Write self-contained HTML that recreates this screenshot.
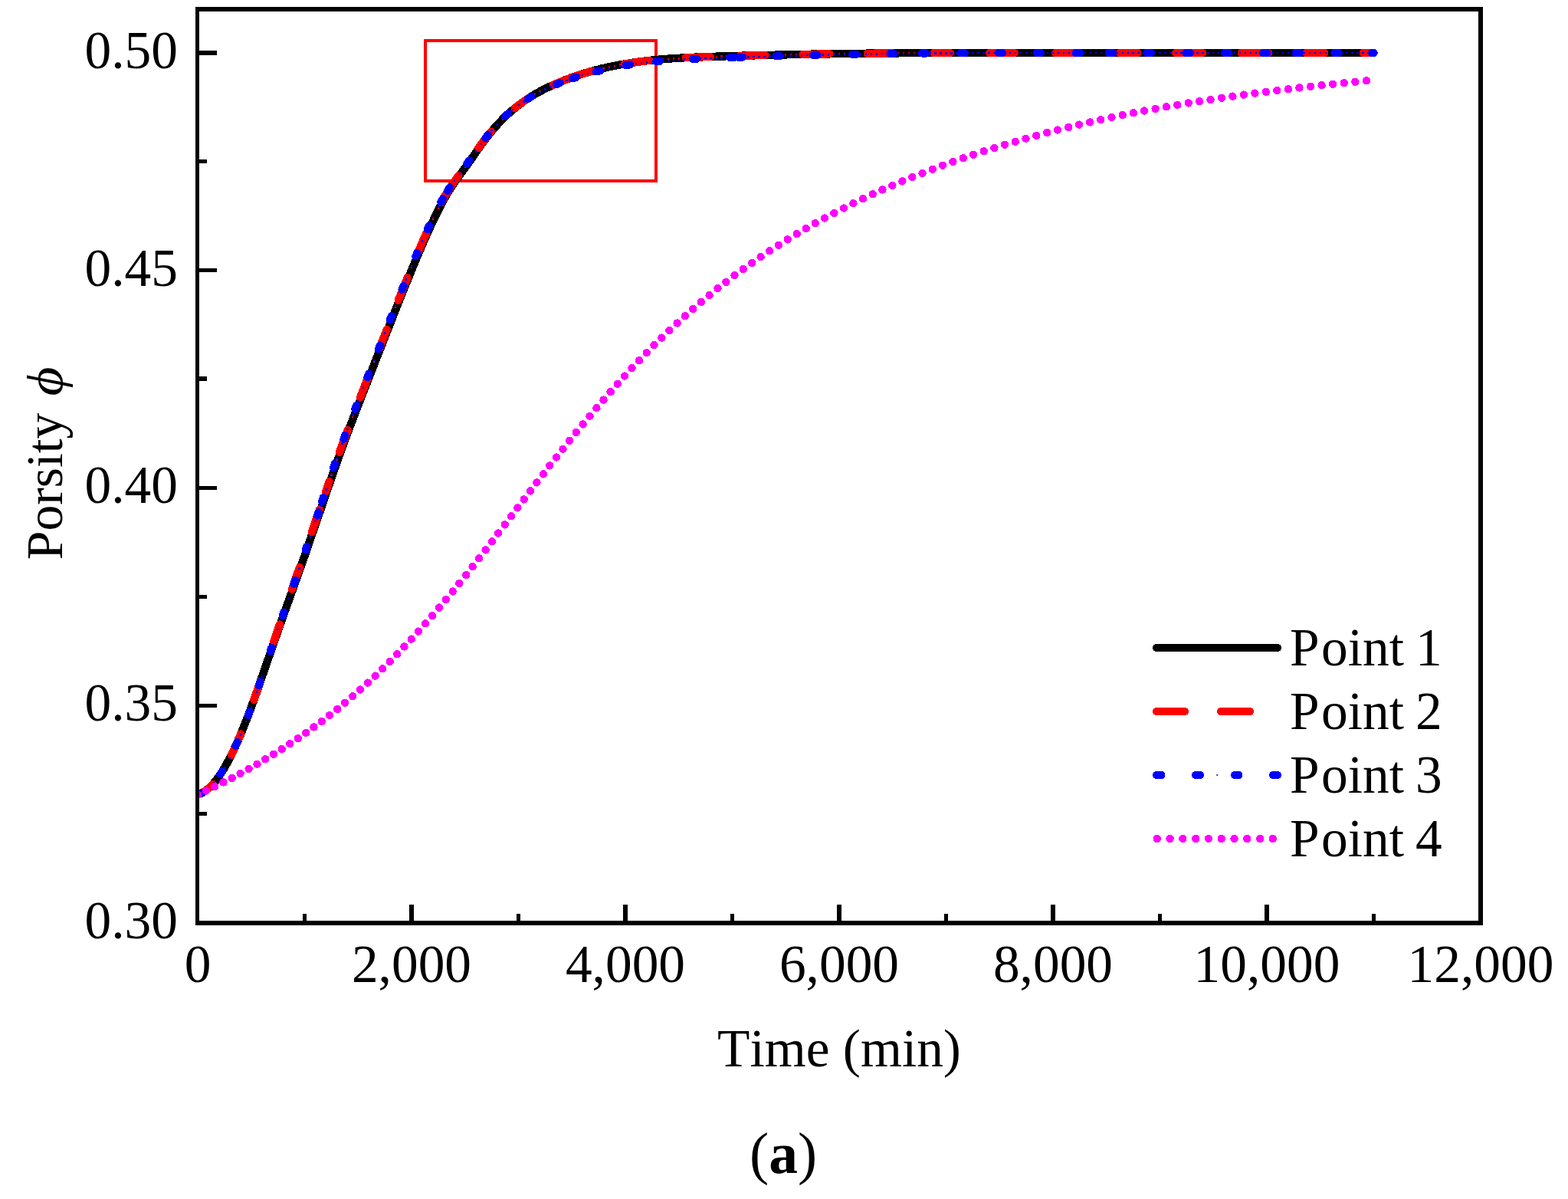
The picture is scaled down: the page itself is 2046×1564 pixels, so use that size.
<!DOCTYPE html>
<html><head><meta charset="utf-8">
<style>
html,body{margin:0;padding:0;background:#fff;}
svg{display:block;}
text{font-family:"Liberation Serif","DejaVu Serif",serif;fill:#000;font-kerning:none;font-variant-ligatures:none;}
</style></head>
<body>
<svg width="2046" height="1564" viewBox="0 0 2046 1564">
<rect x="0" y="0" width="2046" height="1564" fill="#fff"/>
<defs><clipPath id="plot"><rect x="258" y="12" width="1674" height="1192"/></clipPath></defs>
<rect x="555" y="53" width="301" height="183" fill="none" stroke="#f00" stroke-width="4"/>
<g clip-path="url(#plot)" fill="none" stroke-linejoin="round" stroke-linecap="round" shape-rendering="crispEdges">
<path d="M258.0,1036.2L262.1,1034.9L265.9,1033.0L269.4,1030.7L272.7,1027.9L275.8,1025.0L278.7,1021.8L281.4,1018.5L284.0,1015.1L286.5,1011.6L288.8,1008.1L291.1,1004.5L293.3,1000.8L295.4,997.1L297.4,993.3L299.4,989.6L301.4,985.8L303.3,981.9L305.1,978.1L306.9,974.2L308.7,970.3L310.4,966.4L312.1,962.5L313.8,958.6L315.4,954.6L317.0,950.7L318.6,946.7L320.2,942.7L321.7,938.7L323.3,934.7L324.8,930.8L326.3,926.8L327.7,922.7L329.2,918.7L330.7,914.7L332.1,910.7L333.6,906.7L335.0,902.7L336.4,898.6L337.8,894.6L339.2,890.6L340.6,886.5L342.0,882.5L343.4,878.5L344.8,874.4L346.2,870.4L347.6,866.3L349.0,862.3L350.4,858.3L351.8,854.2L353.2,850.2L354.6,846.2L356.0,842.1L357.4,838.1L358.8,834.1L360.2,830.0L361.6,826.0L363.0,822.0L364.5,817.9L365.9,813.9L367.3,809.9L368.8,805.9L370.2,801.8L371.6,797.8L373.1,793.8L374.5,789.8L375.9,785.8L377.4,781.7L378.8,777.7L380.3,773.7L381.7,769.7L383.1,765.7L384.6,761.6L386.0,757.6L387.4,753.6L388.9,749.6L390.3,745.5L391.7,741.5L393.1,737.5L394.6,733.4L396.0,729.4L397.4,725.4L398.8,721.3L400.2,717.3L401.6,713.3L403.0,709.2L404.4,705.2L405.8,701.2L407.1,697.1L408.5,693.1L409.9,689.0L411.3,685.0L412.7,681.0L414.1,676.9L415.5,672.9L416.9,668.9L418.3,664.8L419.7,660.8L421.0,656.7L422.4,652.7L423.8,648.7L425.2,644.6L426.6,640.6L428.0,636.5L429.4,632.5L430.8,628.5L432.2,624.4L433.6,620.4L435.0,616.4L436.4,612.3L437.8,608.3L439.2,604.3L440.6,600.2L442.1,596.2L443.5,592.2L445.0,588.2L446.4,584.2L447.9,580.2L449.4,576.1L450.8,572.1L452.3,568.1L453.8,564.1L455.3,560.1L456.8,556.1L458.3,552.1L459.9,548.2L461.4,544.2L462.9,540.2L464.4,536.2L466.0,532.2L467.5,528.2L469.1,524.2L470.6,520.3L472.2,516.3L473.7,512.3L475.3,508.3L476.8,504.3L478.4,500.4L480.0,496.4L481.5,492.4L483.1,488.4L484.6,484.5L486.2,480.5L487.8,476.5L489.3,472.5L490.9,468.6L492.4,464.6L494.0,460.6L495.6,456.6L497.1,452.7L498.7,448.7L500.2,444.7L501.8,440.7L503.4,436.7L504.9,432.8L506.5,428.8L508.0,424.8L509.6,420.8L511.2,416.9L512.7,412.9L514.3,408.9L515.9,404.9L517.4,401.0L519.0,397.0L520.6,393.0L522.2,389.1L523.8,385.1L525.4,381.1L526.9,377.2L528.5,373.2L530.2,369.3L531.8,365.3L533.4,361.3L535.0,357.4L536.6,353.4L538.3,349.5L539.9,345.6L541.5,341.6L543.2,337.7L544.9,333.7L546.5,329.8L548.2,325.9L549.9,322.0L551.6,318.0L553.3,314.1L555.0,310.2L556.7,306.3L558.5,302.4L560.3,298.5L562.0,294.6L563.8,290.8L565.6,286.9L567.5,283.0L569.4,279.2L571.3,275.4L573.2,271.6L575.2,267.8L577.2,264.0L579.2,260.3L581.3,256.5L583.4,252.8L585.7,249.2L587.9,245.6L590.3,242.0L592.7,238.5L595.1,235.0L597.6,231.5L600.1,228.0L602.7,224.6L605.2,221.2L607.7,217.7L610.2,214.3L612.7,210.8L615.2,207.3L617.6,203.8L620.0,200.3L622.4,196.7L624.9,193.2L627.3,189.7L629.8,186.3L632.4,182.8L634.9,179.4L637.6,176.1L640.3,172.7L643.0,169.5L645.8,166.2L648.6,163.1L651.5,159.9L654.5,156.9L657.5,153.8L660.6,150.9L663.7,148.0L666.9,145.1L670.2,142.4L673.5,139.7L676.9,137.0L680.3,134.5L683.8,132.0L687.3,129.6L690.9,127.3L694.5,125.0L698.2,122.8L701.9,120.7L705.6,118.7L709.4,116.7L713.2,114.8L717.1,113.0L721.0,111.2L724.9,109.5L728.8,107.8L732.8,106.2L736.7,104.6L740.7,103.1L744.7,101.6L748.8,100.1L752.8,98.8L756.9,97.4L760.9,96.1L765.0,94.9L769.1,93.7L773.2,92.5L777.3,91.4L781.5,90.4L785.6,89.3L789.8,88.4L794.0,87.4L798.1,86.5L802.3,85.7L806.5,84.9L810.7,84.1L814.9,83.4L819.1,82.7L823.4,82.0L827.6,81.4L831.8,80.8L836.0,80.2L840.3,79.7L844.5,79.2L848.8,78.7L853.0,78.3L857.3,77.9L861.5,77.5L865.8,77.2L870.0,76.8L874.3,76.5L878.6,76.2L882.8,75.9L887.1,75.7L891.4,75.4L895.6,75.2L899.9,75.0L904.2,74.8L908.4,74.6L912.7,74.5L917.0,74.3L921.2,74.2L925.5,74.0L929.8,73.9L934.0,73.7L938.3,73.6L942.6,73.5L946.8,73.3L951.1,73.2L955.4,73.1L959.6,73.0L963.9,72.8L968.2,72.7L972.5,72.6L976.7,72.5L981.0,72.4L985.3,72.3L989.5,72.2L993.8,72.1L998.1,72.0L1002.3,71.9L1006.6,71.8L1010.9,71.7L1015.2,71.6L1019.4,71.5L1023.7,71.4L1028.0,71.3L1032.2,71.2L1036.5,71.1L1040.8,71.0L1045.0,70.9L1049.3,70.9L1053.6,70.8L1057.9,70.7L1062.1,70.6L1066.4,70.6L1070.7,70.5L1074.9,70.4L1079.2,70.4L1083.5,70.3L1087.8,70.2L1092.0,70.2L1096.3,70.1L1100.6,70.0L1104.8,70.0L1109.1,69.9L1113.4,69.9L1117.7,69.8L1121.9,69.8L1126.2,69.7L1130.5,69.7L1134.7,69.6L1139.0,69.6L1143.3,69.5L1147.5,69.5L1151.8,69.5L1156.1,69.4L1160.4,69.4L1164.6,69.3L1168.9,69.3L1173.2,69.3L1177.4,69.2L1181.7,69.2L1186.0,69.2L1190.3,69.1L1194.5,69.1L1198.8,69.1L1203.1,69.1L1207.3,69.0L1211.6,69.0L1215.9,69.0L1220.2,69.0L1224.4,69.0L1228.7,69.0L1233.0,69.0L1237.2,69.0L1241.5,69.0L1245.8,69.0L1250.1,69.0L1254.3,69.0L1258.6,69.0L1262.9,69.0L1267.1,69.0L1271.4,69.0L1275.7,69.0L1280.0,69.0L1284.2,69.0L1288.5,69.0L1292.8,69.0L1297.0,69.0L1301.3,69.0L1305.6,69.0L1309.9,69.0L1314.1,69.0L1318.4,69.0L1322.7,69.0L1326.9,69.0L1331.2,69.0L1335.5,69.0L1339.8,69.0L1344.0,69.0L1348.3,69.0L1352.6,69.0L1356.8,69.0L1361.1,69.0L1365.4,69.0L1369.6,69.0L1373.9,69.0L1378.2,69.0L1382.5,69.0L1386.7,69.0L1391.0,69.0L1395.3,69.0L1399.5,69.0L1403.8,69.0L1408.1,69.0L1412.4,69.0L1416.6,69.0L1420.9,69.0L1425.2,69.0L1429.4,69.0L1433.7,69.0L1438.0,69.0L1442.3,69.0L1446.5,69.0L1450.8,69.0L1455.1,69.0L1459.3,69.0L1463.6,69.0L1467.9,69.0L1472.2,69.0L1476.4,69.0L1480.7,69.0L1485.0,69.0L1489.2,69.0L1493.5,69.0L1497.8,69.0L1502.1,69.0L1506.3,69.0L1510.6,69.0L1514.9,69.0L1519.1,69.0L1523.4,69.0L1527.7,69.0L1532.0,69.0L1536.2,69.0L1540.5,69.0L1544.8,69.0L1549.0,69.0L1553.3,69.0L1557.6,69.0L1561.9,69.0L1566.1,69.0L1570.4,69.0L1574.7,69.0L1578.9,69.0L1583.2,69.0L1587.5,69.0L1591.8,69.0L1596.0,69.0L1600.3,69.0L1604.6,69.0L1608.8,69.0L1613.1,69.0L1617.4,69.0L1621.7,69.0L1625.9,69.0L1630.2,69.0L1634.5,69.0L1638.7,69.0L1643.0,69.0L1647.3,69.0L1651.6,69.0L1655.8,69.0L1660.1,69.0L1664.4,69.0L1668.6,69.0L1672.9,69.0L1677.2,69.0L1681.4,69.0L1685.7,69.0L1690.0,69.0L1694.3,69.0L1698.5,69.0L1702.8,69.0L1707.1,69.0L1711.3,69.0L1715.6,69.0L1719.9,69.0L1724.2,69.0L1728.4,69.0L1732.7,69.0L1737.0,69.0L1741.2,69.0L1745.5,69.0L1749.8,69.0L1754.1,69.0L1758.3,69.0L1762.6,69.0L1766.9,69.0L1771.1,69.0L1775.4,69.0L1779.7,69.0L1784.0,69.0L1788.2,69.0L1792.5,69.0" stroke="#000" stroke-width="10.4"/>
<path d="M262.8,1034.6L263.7,1034.1L264.6,1033.7L265.6,1033.2L266.5,1032.6L267.4,1032.0L268.2,1031.4L269.1,1030.9L270.0,1030.2L270.8,1029.5L271.6,1028.8L272.4,1028.2L273.2,1027.5L274.0,1026.7L274.8,1026.0L275.5,1025.2L276.3,1024.5L277.0,1023.7L277.6,1023.0M301.9,984.8L302.3,983.9L302.7,983.0L303.2,982.0L303.7,981.1L304.1,980.1L304.6,979.1L305.1,978.2L305.5,977.2L306.0,976.2L306.4,975.3L306.9,974.3L307.3,973.3L307.7,972.4L308.2,971.4L308.6,970.4L309.0,969.4L309.5,968.5L309.9,967.5L310.3,966.5L310.8,965.5L311.2,964.6L311.6,963.6L312.0,962.6L312.5,961.6L312.9,960.7L313.3,959.7L313.7,958.7L314.1,957.7L314.2,957.5M331.3,912.8L331.6,911.9L332.0,910.9L332.3,909.9L332.7,908.9L333.0,907.9L333.4,906.9L333.7,905.9L334.1,904.9L334.4,903.9L334.8,902.8L335.1,901.8L335.5,900.8L335.8,899.8L336.2,898.8L336.5,897.8L336.9,896.8L337.2,895.8L337.6,894.8L337.9,893.8L338.3,892.8L338.6,891.8L338.9,890.7L339.3,889.7L339.5,889.2M357.1,837.1L357.4,836.2L357.7,835.2L358.1,834.2L358.4,833.2L358.8,832.2L359.1,831.2L359.5,830.2L359.8,829.2L360.2,828.1L360.5,827.1L360.8,826.1L361.2,825.1L361.5,824.1L361.9,823.1L362.2,822.1L362.6,821.1L362.9,820.1L363.3,819.1L363.6,818.1L364.0,817.1L364.3,816.1L364.7,815.0L364.9,814.5M380.9,768.6L381.2,767.7L381.5,766.7L381.9,765.7L382.2,764.7L382.6,763.7L382.9,762.7L383.3,761.7L383.6,760.7L384.0,759.7L384.3,758.7L384.7,757.7L385.0,756.7L385.4,755.7L385.7,754.7L386.1,753.6L386.4,752.6L386.8,751.6L387.1,750.6L387.5,749.6L387.8,748.6L388.2,747.6L388.5,746.6L388.9,745.6L389.2,744.6L389.6,743.6L390.0,742.6L390.3,741.6L390.7,740.6L390.9,740.0M406.8,694.1L407.1,693.2L407.5,692.2L407.8,691.2L408.1,690.2L408.5,689.2L408.8,688.2L409.2,687.2L409.5,686.2L409.9,685.2L410.2,684.2L410.6,683.2L410.9,682.1L411.3,681.1L411.6,680.1L412.0,679.1L412.3,678.1L412.7,677.1L413.0,676.1L413.3,675.1L413.7,674.1L414.0,673.1L414.4,672.1L414.7,671.1L415.1,670.0L415.4,669.0L415.8,668.0L416.1,667.0L416.5,666.0L416.8,665.0L417.0,664.5M424.8,641.7L425.1,640.8L425.5,639.8L425.8,638.8L426.2,637.8L426.5,636.8L426.9,635.8L427.2,634.8L427.6,633.8L427.9,632.7L428.3,631.7L428.6,630.7L429.0,629.7L429.3,628.7L429.6,627.8M442.9,590.0L443.2,589.2L443.6,588.2L443.9,587.2L444.3,586.2L444.7,585.2L445.0,584.2L445.4,583.2L445.8,582.2L446.1,581.2L446.5,580.1L446.9,579.1L447.2,578.1L447.6,577.1L448.0,576.1L448.3,575.1L448.7,574.1L449.1,573.1L449.5,572.1L449.8,571.1L450.2,570.1L450.6,569.1L450.9,568.1L451.3,567.2L451.7,566.2L452.1,565.2L452.4,564.2L452.8,563.2L453.2,562.2L453.6,561.2L453.6,560.9M469.9,518.6L470.2,517.7L470.6,516.7L471.0,515.7L471.4,514.7L471.8,513.7L472.2,512.7L472.5,511.7L472.9,510.7L473.3,509.8L473.7,508.8L474.1,507.8L474.5,506.8L474.9,505.8L475.3,504.8L475.7,503.8L476.0,502.8L476.4,501.8L476.8,500.8L477.2,499.8L477.6,498.8L478.0,497.8L478.4,496.8L478.6,496.3M495.2,454.1L495.5,453.2L495.9,452.2L496.3,451.2L496.7,450.2L497.1,449.2L497.5,448.2L497.8,447.2L498.2,446.2L498.6,445.2L499.0,444.3L499.4,443.3L499.8,442.3L500.2,441.3L500.6,440.3L501.0,439.3L501.3,438.3L501.7,437.3L502.1,436.3L502.5,435.3L502.9,434.3L503.3,433.3L503.7,432.3L504.1,431.3L504.5,430.4L504.7,429.8M519.6,391.9L520.0,391.0L520.4,390.0L520.8,389.0L521.2,388.1L521.6,387.1L522.0,386.1L522.4,385.1L522.8,384.1L523.2,383.1L523.6,382.1L524.0,381.1L524.4,380.1L524.8,379.2L525.1,378.2L525.5,377.2L525.9,376.2L526.3,375.2L526.7,374.2L527.1,373.2L527.5,372.2L527.9,371.2L528.3,370.3L528.7,369.3L529.1,368.3L529.5,367.3L529.9,366.3L530.4,365.3L530.8,364.3L531.2,363.3L531.5,362.5M546.5,326.5L546.9,325.6L547.3,324.7L547.7,323.7L548.2,322.7L548.6,321.7L549.0,320.7L549.4,319.8L549.9,318.8L550.3,317.8L550.7,316.8L551.1,315.8L551.6,314.9L552.0,313.9L552.4,312.9L552.8,311.9L553.3,311.0L553.7,310.0L554.1,309.0L554.6,308.0L555.0,307.1L555.4,306.1L555.9,305.1L556.2,304.3M575.7,264.4L576.1,263.6L576.6,262.7L577.1,261.7L577.6,260.8L578.2,259.9L578.7,258.9L579.2,258.0L579.7,257.1L580.3,256.2L580.8,255.2L581.4,254.3L581.9,253.4L582.4,252.5L583.0,251.6L583.5,250.7L584.1,249.8L584.7,248.9L585.2,247.9L585.8,247.1L586.4,246.2L586.9,245.3L587.5,244.4L588.1,243.5L588.7,242.6L589.3,241.7L589.9,240.8L590.5,239.9L591.1,239.1L591.7,238.2L592.3,237.3L592.9,236.4L593.6,235.6L594.2,234.7L594.8,233.8L595.4,233.0L596.0,232.1L596.7,231.2L597.3,230.4L597.9,229.5L598.5,228.8M624.2,193.1L624.8,192.4L625.4,191.5L626.0,190.6L626.6,189.8L627.2,188.9L627.9,188.0L628.5,187.2L629.1,186.3L629.8,185.4L630.4,184.6L631.0,183.7L631.7,182.9L632.3,182.0L633.0,181.2L633.6,180.3L634.3,179.5L634.9,178.7L635.6,177.8L636.2,177.0L636.9,176.2L637.6,175.3L638.3,174.5L638.9,173.7L639.6,172.9L640.3,172.0L640.7,171.6M671.7,141.0L672.4,140.4L673.2,139.8L674.1,139.1L674.9,138.5L675.8,137.8L676.6,137.2L677.5,136.5L678.3,135.9L679.2,135.3L680.1,134.6L680.9,134.0L681.8,133.4L682.7,132.8L683.5,132.2L684.4,131.6L685.3,131.0L686.2,130.4L687.0,129.8L687.9,129.2L688.8,128.6L689.7,128.0L690.6,127.4L691.5,126.9L692.4,126.3L692.9,126.0M721.7,110.8L722.6,110.5L723.6,110.0L724.6,109.6L725.5,109.2L726.5,108.8L727.5,108.4L728.5,107.9L729.5,107.5L730.4,107.1L731.4,106.7L732.4,106.3L733.4,105.9L734.4,105.5L735.4,105.1L736.4,104.7L737.4,104.3L738.4,104.0L739.4,103.6L740.4,103.2L741.4,102.8L742.4,102.5L743.4,102.1L744.4,101.7L745.4,101.4L746.4,101.0L747.4,100.6L748.4,100.3L749.4,99.9L750.4,99.6L751.4,99.2L752.4,98.9L753.4,98.6L754.4,98.2L755.4,97.9L756.5,97.6L757.5,97.2L758.5,96.9L759.5,96.6L760.5,96.3L761.5,95.9L762.6,95.6L763.6,95.3L764.6,95.0L765.6,94.7L766.6,94.4L767.7,94.1L768.7,93.8L769.7,93.5L770.7,93.2L771.8,92.9L772.7,92.7M815.2,83.3L816.2,83.2L817.2,83.0L818.3,82.8L819.3,82.6L820.4,82.5L821.4,82.3L822.5,82.1L823.5,82.0L824.6,81.8L825.6,81.7L826.7,81.5L827.7,81.4L828.8,81.2L829.9,81.1L830.9,80.9L832.0,80.8L833.0,80.6L834.1,80.5L835.1,80.4L836.2,80.2L837.3,80.1L838.3,80.0L839.4,79.8L840.4,79.7L841.5,79.6L842.5,79.4L843.6,79.3L844.7,79.2L845.7,79.1L846.8,79.0L847.4,78.9M894.7,75.3L895.7,75.2L896.7,75.2L897.8,75.1L898.9,75.1L899.9,75.0L901.0,75.0L902.1,74.9L903.1,74.9L904.2,74.8L905.3,74.8L906.3,74.7L907.4,74.7L908.5,74.6L909.5,74.6L910.6,74.6L911.6,74.5L912.7,74.5L913.8,74.4L914.8,74.4L915.9,74.3L917.0,74.3L918.0,74.3L919.1,74.2L920.2,74.2L921.2,74.2L922.3,74.1L923.4,74.1L924.4,74.0L925.5,74.0L926.6,74.0L927.1,74.0M966.1,72.8L967.1,72.8L968.1,72.7L969.2,72.7L970.3,72.7L971.3,72.6L972.4,72.6L973.4,72.6L974.5,72.5L975.6,72.5L976.6,72.5L977.7,72.5L978.8,72.4L979.8,72.4L980.9,72.4L982.0,72.4L983.0,72.3L984.1,72.3L985.2,72.3L986.2,72.2L987.3,72.2L988.4,72.2L989.4,72.2L990.5,72.1L991.6,72.1L992.6,72.1L993.7,72.1L994.8,72.0L995.8,72.0L996.9,72.0L998.0,72.0L998.2,71.9M1047.5,70.9L1048.4,70.9L1049.5,70.9L1050.5,70.8L1051.6,70.8L1052.7,70.8L1053.7,70.8L1054.8,70.8L1055.9,70.7L1056.9,70.7L1058.0,70.7L1059.1,70.7L1060.1,70.7L1061.2,70.7L1062.3,70.6L1063.3,70.6L1064.4,70.6L1065.5,70.6L1066.5,70.6L1067.6,70.5L1068.7,70.5L1069.7,70.5L1070.8,70.5L1071.9,70.5L1072.9,70.5L1074.0,70.4L1075.1,70.4L1076.1,70.4L1077.2,70.4L1078.3,70.4L1079.3,70.4L1080.4,70.3L1081.5,70.3L1082.4,70.3M1131.7,69.7L1132.6,69.6L1133.7,69.6L1134.7,69.6L1135.8,69.6L1136.9,69.6L1137.9,69.6L1139.0,69.6L1140.1,69.6L1141.1,69.6L1142.2,69.5L1143.3,69.5L1144.3,69.5L1145.4,69.5L1146.5,69.5L1147.5,69.5L1148.6,69.5L1149.7,69.5L1150.7,69.5L1151.8,69.5L1152.9,69.4L1153.9,69.4L1155.0,69.4L1156.1,69.4L1157.1,69.4L1158.2,69.4L1159.3,69.4L1160.3,69.4L1161.4,69.4L1162.5,69.4L1163.5,69.3L1164.6,69.3L1164.8,69.3M1218.7,69.0L1219.7,69.0L1220.7,69.0L1221.8,69.0L1222.9,69.0L1223.9,69.0L1225.0,69.0L1226.1,69.0L1227.1,69.0L1228.2,69.0L1229.3,69.0L1230.3,69.0L1231.4,69.0L1232.5,69.0L1233.5,69.0L1234.6,69.0L1235.7,69.0L1236.7,69.0L1237.8,69.0L1238.9,69.0L1239.8,69.0M1291.2,69.0L1292.2,69.0L1293.2,69.0L1294.3,69.0L1295.4,69.0L1296.4,69.0L1297.5,69.0L1298.6,69.0L1299.6,69.0L1300.7,69.0L1301.8,69.0L1302.8,69.0L1303.9,69.0L1305.0,69.0L1306.0,69.0L1307.1,69.0L1308.2,69.0L1309.2,69.0L1310.3,69.0L1311.4,69.0L1312.4,69.0L1313.5,69.0L1314.6,69.0L1315.6,69.0L1316.7,69.0L1317.8,69.0L1318.8,69.0L1319.9,69.0L1321.0,69.0L1322.0,69.0L1323.1,69.0L1324.0,69.0M1377.2,69.0L1378.2,69.0L1379.2,69.0L1380.3,69.0L1381.4,69.0L1382.4,69.0L1383.5,69.0L1384.6,69.0L1385.6,69.0L1386.7,69.0L1387.8,69.0L1388.8,69.0L1389.9,69.0L1391.0,69.0L1392.0,69.0L1393.1,69.0L1394.2,69.0L1395.2,69.0L1396.3,69.0L1397.4,69.0L1398.4,69.0L1399.5,69.0L1400.5,69.0L1401.6,69.0L1402.7,69.0L1403.7,69.0L1404.8,69.0L1405.9,69.0L1406.9,69.0L1407.9,69.0M1461.1,69.0L1462.0,69.0L1463.1,69.0L1464.2,69.0L1465.2,69.0L1466.3,69.0L1467.4,69.0L1468.4,69.0L1469.5,69.0L1470.6,69.0L1471.6,69.0L1472.7,69.0L1473.8,69.0L1474.8,69.0L1475.9,69.0L1476.9,69.0L1478.0,69.0L1479.1,69.0L1480.1,69.0L1481.2,69.0L1482.3,69.0L1483.3,69.0L1484.3,69.0M1534.3,69.0L1535.2,69.0L1536.3,69.0L1537.4,69.0L1538.4,69.0L1539.5,69.0L1540.6,69.0L1541.6,69.0L1542.7,69.0L1543.8,69.0L1544.8,69.0L1545.9,69.0L1547.0,69.0L1548.0,69.0L1549.1,69.0L1550.2,69.0L1551.2,69.0L1552.3,69.0L1553.3,69.0L1554.4,69.0L1555.5,69.0L1556.5,69.0L1557.6,69.0L1558.7,69.0L1559.7,69.0L1560.8,69.0L1561.9,69.0L1562.9,69.0L1564.0,69.0L1565.1,69.0L1566.1,69.0L1567.2,69.0L1568.3,69.0L1569.2,69.0M1619.6,69.0L1620.5,69.0L1621.6,69.0L1622.6,69.0L1623.7,69.0L1624.8,69.0L1625.8,69.0L1626.9,69.0L1628.0,69.0L1629.0,69.0L1630.1,69.0L1631.2,69.0L1632.2,69.0L1633.3,69.0L1634.4,69.0L1635.4,69.0L1636.5,69.0L1637.6,69.0L1638.6,69.0L1639.7,69.0L1640.8,69.0L1641.8,69.0L1642.9,69.0L1644.0,69.0L1645.0,69.0L1646.1,69.0L1647.2,69.0L1648.2,69.0L1649.3,69.0L1650.4,69.0L1651.4,69.0L1652.5,69.0L1653.6,69.0L1654.6,69.0L1655.2,69.0M1704.5,69.0L1705.4,69.0L1706.5,69.0L1707.6,69.0L1708.6,69.0L1709.7,69.0L1710.8,69.0L1711.8,69.0L1712.9,69.0L1714.0,69.0L1715.0,69.0L1716.1,69.0L1717.2,69.0L1718.2,69.0L1719.3,69.0L1720.4,69.0L1721.4,69.0L1722.5,69.0L1723.6,69.0L1724.6,69.0L1725.7,69.0L1726.8,69.0L1727.8,69.0L1728.4,69.0M1778.8,69.0L1779.7,69.0L1780.8,69.0L1781.8,69.0L1782.9,69.0L1784.0,69.0L1785.0,69.0L1786.1,69.0L1787.2,69.0L1787.4,69.0" stroke="#f00" stroke-width="10.2"/>
<path d="M265.0,1033.5h0M271.9,1028.6h0M278.9,1021.5h0M285.9,1012.4h0M292.9,1001.5h0M299.9,988.7h0M306.8,974.4h0M313.8,958.5h0M320.8,941.2h0M327.8,922.7h0M334.7,903.1h0M341.7,882.7h0M348.7,862.0h0M355.6,841.3h0M362.6,821.0h0M369.6,800.9h0M376.6,780.9h0M383.6,761.0h0M390.5,741.0h0M397.5,721.1h0M404.5,700.9h0M411.4,680.6h0M418.4,660.3h0M425.4,640.1h0M432.4,619.8h0M439.4,599.9h0M446.3,580.6h0M453.3,561.8h0M460.3,543.4h0M467.2,525.3h0M474.2,507.4h0M481.2,489.7h0M488.2,471.9h0M495.1,454.1h0M502.1,436.3h0M509.1,418.5h0M516.1,400.9h0M523.0,383.4h0M530.0,366.1h0M537.0,349.1h0M544.0,332.5h0M551.0,316.3h0M557.9,300.5h0M564.9,285.6h0M571.9,271.6h0M578.9,258.7h0M585.8,247.0h0M592.8,236.6h0M599.8,227.0h0M606.8,217.7h0M613.7,208.1h0M620.7,198.1h0M627.7,188.3h0M634.6,179.0h0M641.6,170.5h0M648.6,162.6h0M655.6,155.4h0M662.5,148.8h0M669.5,142.8h0M676.5,137.3h0M683.5,132.2h0M690.5,127.5h0M697.4,123.2h0M704.4,119.3h0M711.4,115.7h0M718.4,112.4h0M725.3,109.3h0M732.3,106.4h0M739.3,103.6h0M746.2,101.0h0M753.2,98.6h0M760.2,96.4h0M767.2,94.3h0M774.1,92.3h0M781.1,90.5h0M788.1,88.8h0M795.1,87.2h0M802.0,85.7h0M809.0,84.4h0M816.0,83.2h0M823.0,82.1h0M830.0,81.1h0M836.9,80.1h0M843.9,79.3h0M850.9,78.5h0M857.9,77.8h0M864.8,77.2h0M871.8,76.7h0M878.8,76.2h0M885.8,75.8h0M892.7,75.4h0M899.7,75.0h0M906.7,74.7h0M913.6,74.4h0M920.6,74.2h0M927.6,73.9h0M934.6,73.7h0M941.5,73.5h0M948.5,73.3h0M955.5,73.1h0M962.5,72.9h0M969.5,72.7h0M976.4,72.5h0M983.4,72.3h0M990.4,72.1h0M997.4,72.0h0M1004.3,71.8h0M1011.3,71.6h0M1018.3,71.5h0M1025.2,71.3h0M1032.2,71.2h0M1039.2,71.1h0M1046.2,70.9h0M1053.2,70.8h0M1060.1,70.7h0M1067.1,70.6h0M1074.1,70.4h0M1081.0,70.3h0M1088.0,70.2h0M1095.0,70.1h0M1102.0,70.0h0M1109.0,69.9h0M1115.9,69.8h0M1122.9,69.8h0M1129.9,69.7h0M1136.8,69.6h0M1143.8,69.5h0M1150.8,69.5h0M1157.8,69.4h0M1164.8,69.3h0M1171.7,69.3h0M1178.7,69.2h0M1185.7,69.2h0M1192.7,69.1h0M1199.6,69.1h0M1206.6,69.0h0M1213.6,69.0h0M1220.5,69.0h0M1227.5,69.0h0M1234.5,69.0h0M1241.5,69.0h0M1248.5,69.0h0M1255.4,69.0h0M1262.4,69.0h0M1269.4,69.0h0M1276.3,69.0h0M1283.3,69.0h0M1290.3,69.0h0M1297.3,69.0h0M1304.2,69.0h0M1311.2,69.0h0M1318.2,69.0h0M1325.2,69.0h0M1332.2,69.0h0M1339.1,69.0h0M1346.1,69.0h0M1353.1,69.0h0M1360.0,69.0h0M1367.0,69.0h0M1374.0,69.0h0M1381.0,69.0h0M1388.0,69.0h0M1394.9,69.0h0M1401.9,69.0h0M1408.9,69.0h0M1415.8,69.0h0M1422.8,69.0h0M1429.8,69.0h0M1436.8,69.0h0M1443.8,69.0h0M1450.7,69.0h0M1457.7,69.0h0M1464.7,69.0h0M1471.7,69.0h0M1478.6,69.0h0M1485.6,69.0h0M1492.6,69.0h0M1499.5,69.0h0M1506.5,69.0h0M1513.5,69.0h0M1520.5,69.0h0M1527.5,69.0h0M1534.4,69.0h0M1541.4,69.0h0M1548.4,69.0h0M1555.3,69.0h0M1562.3,69.0h0M1569.3,69.0h0M1576.3,69.0h0M1583.2,69.0h0M1590.2,69.0h0M1597.2,69.0h0M1604.2,69.0h0M1611.2,69.0h0M1618.1,69.0h0M1625.1,69.0h0M1632.1,69.0h0M1639.0,69.0h0M1646.0,69.0h0M1653.0,69.0h0M1660.0,69.0h0M1667.0,69.0h0M1673.9,69.0h0M1680.9,69.0h0M1687.9,69.0h0M1694.8,69.0h0M1701.8,69.0h0M1708.8,69.0h0M1715.8,69.0h0M1722.8,69.0h0M1729.7,69.0h0M1736.7,69.0h0M1743.7,69.0h0M1750.7,69.0h0M1757.6,69.0h0M1764.6,69.0h0M1771.6,69.0h0M1778.5,69.0h0M1785.5,69.0h0" stroke="#f00" stroke-width="2.2" stroke-linecap="square"/>
<path d="M265.0,1033.5h0M271.9,1028.6h0M278.9,1021.5h0M285.9,1012.4h0M292.9,1001.5h0M299.9,988.7h0M306.8,974.4h0M313.8,958.5h0M320.8,941.1h0M327.8,922.3h0M334.7,902.6h0M341.7,882.3h0M348.7,861.8h0M355.6,841.3h0M362.6,821.0h0M369.6,801.1h0M376.6,781.2h0M383.6,761.4h0M390.5,741.4h0M397.5,721.1h0M404.5,700.6h0M411.4,679.9h0M418.4,659.3h0M425.4,638.6h0M432.4,618.0h0M439.4,597.9h0M446.3,578.6h0M453.3,559.8h0M460.3,541.5h0M467.2,523.4h0M474.2,505.5h0M481.2,487.8h0M488.2,470.0h0M495.1,452.2h0M502.1,434.4h0M509.1,416.6h0M516.1,399.0h0M523.0,381.5h0M530.0,364.3h0M537.0,347.3h0M544.0,330.7h0M551.0,314.5h0M557.9,298.8h0M564.9,284.1h0M571.9,270.2h0M578.9,257.5h0M585.8,246.0h0M592.8,235.8h0M599.8,226.3h0M606.8,217.0h0M613.7,207.4h0M620.7,197.5h0M627.7,187.8h0M634.6,178.6h0M641.6,170.1h0M648.6,162.3h0M655.6,155.2h0M662.5,148.7h0M669.5,142.7h0M676.5,137.2h0M683.5,132.3h0M690.5,127.8h0M697.4,123.7h0M704.4,119.9h0M711.4,116.5h0M718.4,113.3h0M725.3,110.4h0M732.3,107.6h0M739.3,105.0h0M746.2,102.6h0M753.2,100.3h0M760.2,98.2h0M767.2,96.2h0M774.1,94.4h0M781.1,92.7h0M788.1,91.0h0M795.1,89.4h0M802.0,88.0h0M809.0,86.6h0M816.0,85.4h0M823.0,84.2h0M830.0,83.2h0M836.9,82.3h0M843.9,81.4h0M850.9,80.7h0M857.9,80.0h0M864.8,79.3h0M871.8,78.8h0M878.8,78.3h0M885.8,77.8h0M892.7,77.4h0M899.7,77.1h0M906.7,76.8h0M913.6,76.5h0M920.6,76.2h0M927.6,76.0h0M934.6,75.7h0M941.5,75.5h0M948.5,75.3h0M955.5,75.0h0M962.5,74.8h0M969.5,74.6h0M976.4,74.3h0M983.4,74.1h0M990.4,73.9h0M997.4,73.7h0M1004.3,73.4h0M1011.3,73.2h0M1018.3,73.0h0M1025.2,72.8h0M1032.2,72.6h0M1039.2,72.5h0M1046.2,72.3h0M1053.2,72.1h0M1060.1,71.9h0M1067.1,71.8h0M1074.1,71.6h0M1081.0,71.5h0M1088.0,71.3h0M1095.0,71.2h0M1102.0,71.0h0M1109.0,70.9h0M1115.9,70.8h0M1122.9,70.6h0M1129.9,70.5h0M1136.8,70.4h0M1143.8,70.3h0M1150.8,70.2h0M1157.8,70.1h0M1164.8,70.0h0M1171.7,69.9h0M1178.7,69.8h0M1185.7,69.7h0M1192.7,69.7h0M1199.6,69.6h0M1206.6,69.5h0M1213.6,69.4h0M1220.5,69.4h0M1227.5,69.4h0M1234.5,69.3h0M1241.5,69.3h0M1248.5,69.3h0M1255.4,69.2h0M1262.4,69.2h0M1269.4,69.2h0M1276.3,69.1h0M1283.3,69.1h0M1290.3,69.0h0M1297.3,69.0h0M1304.2,69.0h0M1311.2,69.0h0M1318.2,69.0h0M1325.2,69.0h0M1332.2,69.0h0M1339.1,69.0h0M1346.1,69.0h0M1353.1,69.0h0M1360.0,69.0h0M1367.0,69.0h0M1374.0,69.0h0M1381.0,69.0h0M1388.0,69.0h0M1394.9,69.0h0M1401.9,69.0h0M1408.9,69.0h0M1415.8,69.0h0M1422.8,69.0h0M1429.8,69.0h0M1436.8,69.0h0M1443.8,69.0h0M1450.7,69.0h0M1457.7,69.0h0M1464.7,69.0h0M1471.7,69.0h0M1478.6,69.0h0M1485.6,69.0h0M1492.6,69.0h0M1499.5,69.0h0M1506.5,69.0h0M1513.5,69.0h0M1520.5,69.0h0M1527.5,69.0h0M1534.4,69.0h0M1541.4,69.0h0M1548.4,69.0h0M1555.3,69.0h0M1562.3,69.0h0M1569.3,69.0h0M1576.3,69.0h0M1583.2,69.0h0M1590.2,69.0h0M1597.2,69.0h0M1604.2,69.0h0M1611.2,69.0h0M1618.1,69.0h0M1625.1,69.0h0M1632.1,69.0h0M1639.0,69.0h0M1646.0,69.0h0M1653.0,69.0h0M1660.0,69.0h0M1667.0,69.0h0M1673.9,69.0h0M1680.9,69.0h0M1687.9,69.0h0M1694.8,69.0h0M1701.8,69.0h0M1708.8,69.0h0M1715.8,69.0h0M1722.8,69.0h0M1729.7,69.0h0M1736.7,69.0h0M1743.7,69.0h0M1750.7,69.0h0M1757.6,69.0h0M1764.6,69.0h0M1771.6,69.0h0M1778.5,69.0h0M1785.5,69.0h0" stroke="#00f" stroke-width="2.4" stroke-linecap="square"/>
<path d="M258.6,1036.0L259.4,1035.8L260.4,1035.5L261.4,1035.2L262.4,1034.8L263.3,1034.3L263.4,1034.3M287.5,1010.0L288.0,1009.3L288.6,1008.4L289.2,1007.5L289.7,1006.6L290.3,1005.7L290.4,1005.6M307.5,972.8L307.9,972.1L308.3,971.1L308.8,970.1L309.2,969.1L309.6,968.2L309.7,968.1M323.8,933.0L324.1,932.3L324.5,931.3L324.9,930.3L325.2,929.3L325.6,928.3L325.6,928.2M337.6,894.2L337.9,893.4L338.3,892.4L338.6,891.4L338.9,890.4L339.3,889.4L339.3,889.3M352.8,849.5L353.1,848.7L353.5,847.7L353.8,846.7L354.1,845.7L354.5,844.7L354.5,844.6M368.7,803.5L369.0,802.7L369.4,801.7L369.7,800.7L370.1,799.7L370.4,798.7L370.5,798.6M383.5,761.6L383.7,760.8L384.1,759.8L384.4,758.8L384.8,757.8L385.2,756.8L385.2,756.7M398.7,717.6L399.0,716.8L399.3,715.8L399.6,714.8L400.0,713.8L400.3,712.8L400.4,712.7M413.9,672.5L414.2,671.7L414.6,670.7L414.9,669.7L415.2,668.7L415.6,667.7L415.6,667.6M420.2,654.0L420.5,653.2L420.8,652.2L421.1,651.2L421.5,650.2L421.8,649.2L421.9,649.1M435.1,609.9L435.4,609.2L435.7,608.1L436.1,607.1L436.4,606.1L436.8,605.1L436.8,605.0M448.6,572.5L448.9,571.7L449.2,570.7L449.6,569.7L450.0,568.7L450.4,567.7L450.4,567.6M463.3,533.6L463.6,532.8L464.0,531.9L464.4,530.9L464.7,529.9L465.1,528.9L465.2,528.8M479.4,492.2L479.7,491.5L480.1,490.5L480.5,489.5L480.9,488.5L481.3,487.5L481.3,487.4M494.0,455.2L494.3,454.4L494.7,453.5L495.0,452.5L495.4,451.5L495.8,450.5L495.9,450.4M508.9,417.2L509.2,416.4L509.6,415.4L510.0,414.4L510.4,413.4L510.7,412.4L510.8,412.3M524.6,377.6L524.9,376.8L525.3,375.8L525.7,374.8L526.1,373.8L526.5,372.8L526.6,372.7M542.4,334.5L542.7,333.8L543.1,332.8L543.5,331.8L543.9,330.8L544.3,329.8L544.4,329.7M557.8,299.0L558.2,298.3L558.6,297.3L559.1,296.4L559.5,295.4L560.0,294.4L560.0,294.3M575.4,263.7L575.8,263.0L576.3,262.1L576.8,261.1L577.3,260.2L577.8,259.3L577.9,259.2M584.1,248.7L584.6,248.0L585.1,247.1L585.7,246.2L586.3,245.3L586.9,244.4L586.9,244.3M609.4,213.5L609.9,212.8L610.5,211.9L611.1,211.1L611.7,210.2L612.4,209.4L612.4,209.3M633.5,180.1L634.0,179.4L634.7,178.6L635.3,177.7L636.0,176.9L636.6,176.1L636.7,176.0M659.5,151.5L660.1,150.9L660.9,150.2L661.7,149.5L662.5,148.7L663.3,148.0L663.4,148.0M688.7,128.9L689.4,128.5L690.3,127.9L691.2,127.3L692.1,126.8L693.0,126.2L693.1,126.2M725.8,110.2L726.5,109.9L727.5,109.5L728.5,109.1L729.5,108.7L730.5,108.3L730.6,108.3M747.1,102.3L747.9,102.0L748.9,101.7L749.9,101.4L750.9,101.1L751.9,100.7L752.0,100.7M778.2,93.4L779.0,93.2L780.0,93.0L781.0,92.7L782.1,92.5L783.1,92.2L783.2,92.2M816.7,85.3L817.5,85.1L818.6,84.9L819.6,84.8L820.7,84.6L821.7,84.4L821.8,84.4M856.2,80.1L857.0,80.0L858.0,79.9L859.1,79.8L860.2,79.7L861.2,79.7L861.3,79.6M904.0,76.9L904.8,76.8L905.9,76.8L907.0,76.8L908.0,76.7L909.1,76.7L909.2,76.7M952.3,75.2L953.1,75.1L954.2,75.1L955.2,75.1L956.3,75.0L957.4,75.0L957.5,75.0M964.0,74.7L964.8,74.7L965.9,74.7L967.0,74.6L968.0,74.6L969.1,74.6L969.2,74.6M1012.7,73.2L1013.5,73.2L1014.5,73.1L1015.6,73.1L1016.7,73.1L1017.7,73.1L1017.8,73.0M1061.3,71.9L1062.1,71.9L1063.2,71.9L1064.3,71.8L1065.3,71.8L1066.4,71.8L1066.5,71.8M1112.1,70.8L1112.9,70.8L1114.0,70.8L1115.0,70.8L1116.1,70.8L1117.2,70.7L1117.3,70.7M1161.5,70.1L1162.3,70.0L1163.4,70.0L1164.4,70.0L1165.5,70.0L1166.6,70.0L1166.7,70.0M1203.0,69.5L1203.9,69.5L1204.9,69.5L1206.0,69.5L1207.0,69.5L1208.1,69.5L1208.2,69.5M1253.8,69.2L1254.7,69.2L1255.7,69.2L1256.8,69.2L1257.8,69.2L1258.9,69.2L1259.0,69.2M1302.9,69.0L1303.7,69.0L1304.7,69.0L1305.8,69.0L1306.9,69.0L1307.9,69.0L1308.1,69.0M1352.9,69.0L1353.8,69.0L1354.8,69.0L1355.9,69.0L1357.0,69.0L1358.0,69.0L1358.1,69.0M1403.7,69.0L1404.6,69.0L1405.6,69.0L1406.7,69.0L1407.8,69.0L1408.8,69.0L1408.9,69.0M1446.7,69.0L1447.6,69.0L1448.6,69.0L1449.7,69.0L1450.7,69.0L1451.8,69.0L1451.9,69.0M1496.8,69.0L1497.6,69.0L1498.7,69.0L1499.8,69.0L1500.8,69.0L1501.9,69.0L1502.0,69.0M1547.6,69.0L1548.4,69.0L1549.5,69.0L1550.6,69.0L1551.6,69.0L1552.7,69.0L1552.8,69.0M1598.1,69.0L1598.9,69.0L1600.0,69.0L1601.0,69.0L1602.1,69.0L1603.2,69.0L1603.3,69.0M1648.2,69.0L1649.0,69.0L1650.0,69.0L1651.1,69.0L1652.2,69.0L1653.2,69.0L1653.4,69.0M1690.8,69.0L1691.6,69.0L1692.7,69.0L1693.7,69.0L1694.8,69.0L1695.9,69.0L1696.0,69.0M1741.6,69.0L1742.4,69.0L1743.5,69.0L1744.5,69.0L1745.6,69.0L1746.7,69.0L1746.8,69.0M1789.9,69.0L1790.0,69.0L1790.4,69.0L1790.7,69.0L1791.1,69.0L1791.4,69.0L1791.8,69.0L1792.1,69.0L1792.5,69.0" stroke="#00f" stroke-width="10.2"/>
<g fill="#f0f" stroke="none"><circle cx="258.0" cy="1036.8" r="5.2"/><circle cx="269.2" cy="1031.5" r="5.2"/><circle cx="280.4" cy="1026.0" r="5.2"/><circle cx="291.5" cy="1020.5" r="5.2"/><circle cx="302.6" cy="1014.8" r="5.2"/><circle cx="313.6" cy="1008.9" r="5.2"/><circle cx="324.6" cy="1002.9" r="5.2"/><circle cx="335.5" cy="996.7" r="5.2"/><circle cx="346.3" cy="990.3" r="5.2"/><circle cx="357.0" cy="983.8" r="5.2"/><circle cx="367.7" cy="977.1" r="5.2"/><circle cx="378.3" cy="970.2" r="5.2"/><circle cx="388.8" cy="963.2" r="5.2"/><circle cx="399.2" cy="955.9" r="5.2"/><circle cx="409.5" cy="948.5" r="5.2"/><circle cx="419.8" cy="940.9" r="5.2"/><circle cx="430.0" cy="933.0" r="5.2"/><circle cx="440.1" cy="925.0" r="5.2"/><circle cx="450.2" cy="916.7" r="5.2"/><circle cx="460.2" cy="908.2" r="5.2"/><circle cx="470.1" cy="899.5" r="5.2"/><circle cx="479.9" cy="890.6" r="5.2"/><circle cx="489.6" cy="881.6" r="5.2"/><circle cx="499.2" cy="872.3" r="5.2"/><circle cx="508.7" cy="862.9" r="5.2"/><circle cx="518.2" cy="853.3" r="5.2"/><circle cx="527.5" cy="843.5" r="5.2"/><circle cx="536.7" cy="833.6" r="5.2"/><circle cx="545.9" cy="823.6" r="5.2"/><circle cx="555.0" cy="813.4" r="5.2"/><circle cx="564.1" cy="803.1" r="5.2"/><circle cx="573.0" cy="792.6" r="5.2"/><circle cx="581.9" cy="782.1" r="5.2"/><circle cx="590.7" cy="771.5" r="5.2"/><circle cx="599.4" cy="760.8" r="5.2"/><circle cx="608.1" cy="750.0" r="5.2"/><circle cx="616.6" cy="739.2" r="5.2"/><circle cx="625.1" cy="728.3" r="5.2"/><circle cx="633.6" cy="717.4" r="5.2"/><circle cx="642.0" cy="706.4" r="5.2"/><circle cx="650.3" cy="695.5" r="5.2"/><circle cx="658.7" cy="684.4" r="5.2"/><circle cx="667.0" cy="673.4" r="5.2"/><circle cx="675.4" cy="662.4" r="5.2"/><circle cx="683.7" cy="651.4" r="5.2"/><circle cx="692.1" cy="640.4" r="5.2"/><circle cx="700.4" cy="629.4" r="5.2"/><circle cx="708.9" cy="618.4" r="5.2"/><circle cx="717.3" cy="607.4" r="5.2"/><circle cx="725.9" cy="596.5" r="5.2"/><circle cx="734.5" cy="585.7" r="5.2"/><circle cx="743.1" cy="574.9" r="5.2"/><circle cx="751.8" cy="564.1" r="5.2"/><circle cx="760.6" cy="553.4" r="5.2"/><circle cx="769.5" cy="542.7" r="5.2"/><circle cx="778.4" cy="532.2" r="5.2"/><circle cx="787.5" cy="521.6" r="5.2"/><circle cx="796.6" cy="511.2" r="5.2"/><circle cx="805.8" cy="500.8" r="5.2"/><circle cx="815.1" cy="490.5" r="5.2"/><circle cx="824.5" cy="480.3" r="5.2"/><circle cx="834.1" cy="470.2" r="5.2"/><circle cx="843.7" cy="460.2" r="5.2"/><circle cx="853.5" cy="450.3" r="5.2"/><circle cx="863.4" cy="440.6" r="5.2"/><circle cx="873.4" cy="431.0" r="5.2"/><circle cx="883.6" cy="421.5" r="5.2"/><circle cx="893.9" cy="412.2" r="5.2"/><circle cx="904.3" cy="403.0" r="5.2"/><circle cx="914.9" cy="393.9" r="5.2"/><circle cx="925.6" cy="385.1" r="5.2"/><circle cx="936.5" cy="376.3" r="5.2"/><circle cx="947.4" cy="367.8" r="5.2"/><circle cx="958.5" cy="359.3" r="5.2"/><circle cx="969.8" cy="351.1" r="5.2"/><circle cx="981.1" cy="343.0" r="5.2"/><circle cx="992.6" cy="335.1" r="5.2"/><circle cx="1004.2" cy="327.3" r="5.2"/><circle cx="1015.9" cy="319.8" r="5.2"/><circle cx="1027.7" cy="312.4" r="5.2"/><circle cx="1039.7" cy="305.1" r="5.2"/><circle cx="1051.7" cy="298.1" r="5.2"/><circle cx="1063.8" cy="291.2" r="5.2"/><circle cx="1076.1" cy="284.5" r="5.2"/><circle cx="1088.4" cy="277.9" r="5.2"/><circle cx="1100.9" cy="271.5" r="5.2"/><circle cx="1113.4" cy="265.3" r="5.2"/><circle cx="1126.0" cy="259.2" r="5.2"/><circle cx="1138.7" cy="253.3" r="5.2"/><circle cx="1151.5" cy="247.5" r="5.2"/><circle cx="1164.4" cy="241.9" r="5.2"/><circle cx="1177.4" cy="236.4" r="5.2"/><circle cx="1190.4" cy="231.0" r="5.2"/><circle cx="1203.5" cy="225.8" r="5.2"/><circle cx="1216.7" cy="220.7" r="5.2"/><circle cx="1230.0" cy="215.7" r="5.2"/><circle cx="1243.4" cy="210.9" r="5.2"/><circle cx="1256.8" cy="206.2" r="5.2"/><circle cx="1270.2" cy="201.7" r="5.2"/><circle cx="1283.8" cy="197.2" r="5.2"/><circle cx="1297.4" cy="192.9" r="5.2"/><circle cx="1311.0" cy="188.7" r="5.2"/><circle cx="1324.7" cy="184.7" r="5.2"/><circle cx="1338.5" cy="180.7" r="5.2"/><circle cx="1352.3" cy="176.9" r="5.2"/><circle cx="1366.2" cy="173.1" r="5.2"/><circle cx="1380.1" cy="169.5" r="5.2"/><circle cx="1394.1" cy="166.0" r="5.2"/><circle cx="1408.1" cy="162.6" r="5.2"/><circle cx="1422.2" cy="159.4" r="5.2"/><circle cx="1436.3" cy="156.2" r="5.2"/><circle cx="1450.5" cy="153.1" r="5.2"/><circle cx="1464.7" cy="150.1" r="5.2"/><circle cx="1478.9" cy="147.3" r="5.2"/><circle cx="1493.2" cy="144.5" r="5.2"/><circle cx="1507.6" cy="141.8" r="5.2"/><circle cx="1521.9" cy="139.3" r="5.2"/><circle cx="1536.3" cy="136.8" r="5.2"/><circle cx="1550.7" cy="134.4" r="5.2"/><circle cx="1565.1" cy="132.1" r="5.2"/><circle cx="1579.5" cy="129.8" r="5.2"/><circle cx="1594.0" cy="127.7" r="5.2"/><circle cx="1608.4" cy="125.6" r="5.2"/><circle cx="1622.9" cy="123.6" r="5.2"/><circle cx="1637.4" cy="121.6" r="5.2"/><circle cx="1651.9" cy="119.8" r="5.2"/><circle cx="1666.4" cy="118.0" r="5.2"/><circle cx="1681.0" cy="116.2" r="5.2"/><circle cx="1695.5" cy="114.5" r="5.2"/><circle cx="1710.1" cy="112.9" r="5.2"/><circle cx="1724.6" cy="111.2" r="5.2"/><circle cx="1739.2" cy="109.7" r="5.2"/><circle cx="1753.8" cy="108.2" r="5.2"/><circle cx="1768.4" cy="106.7" r="5.2"/><circle cx="1783.0" cy="105.2" r="5.2"/></g>
</g>
<path d="M255,9H1935V1207H255Z M260,15V1201H1929V15Z" fill="#000" fill-rule="evenodd"/>
<path d="M258,66H283V72H258ZM258,208H270V213H258ZM258,350H283V355H258ZM258,491H270V497H258ZM258,634H283V639H258ZM258,776H270V781H258ZM258,918H283V923H258ZM258,1059H270V1064H258ZM395,1204V1192H400V1204ZM534,1204V1180H540V1204ZM674,1204V1192H679V1204ZM813,1204V1180H819V1204ZM953,1204V1192H958V1204ZM1092,1204V1180H1098V1204ZM1232,1204V1192H1237V1204ZM1371,1204V1180H1377V1204ZM1511,1204V1192H1516V1204ZM1650,1204V1180H1656V1204ZM1790,1204V1192H1795V1204Z" fill="#000"/>
<text x="232" y="1223.8" font-size="69.4" text-anchor="end">0.30</text>
<text x="232" y="940.1" font-size="69.4" text-anchor="end">0.35</text>
<text x="232" y="656.3" font-size="69.4" text-anchor="end">0.40</text>
<text x="232" y="372.5" font-size="69.4" text-anchor="end">0.45</text>
<text x="232" y="88.8" font-size="69.4" text-anchor="end">0.50</text>
<text x="258.0" y="1281.3" font-size="69.4" text-anchor="middle">0</text>
<text x="537.0" y="1281.3" font-size="69.4" text-anchor="middle">2,000</text>
<text x="816.0" y="1281.3" font-size="69.4" text-anchor="middle">4,000</text>
<text x="1095.0" y="1281.3" font-size="69.4" text-anchor="middle">6,000</text>
<text x="1374.0" y="1281.3" font-size="69.4" text-anchor="middle">8,000</text>
<text x="1653.0" y="1281.3" font-size="69.4" text-anchor="middle">10,000</text>
<text x="1932.0" y="1281.3" font-size="69.4" text-anchor="middle">12,000</text>
<text x="1095" y="1391" font-size="69.4" text-anchor="middle">Time (min)</text>
<text transform="translate(80.8,730.2) rotate(-90)" font-size="67.6">Porsity</text>
<text transform="translate(80.8,516.5) rotate(-90) scale(1.06,0.93)" font-size="69.4" font-style="italic">ϕ</text>
<text x="1022" y="1529.8" font-size="75.5" text-anchor="middle">(<tspan font-weight="bold">a</tspan>)</text>
<g fill="none" stroke-linecap="round" shape-rendering="crispEdges">
<path d="M1509,845H1667" stroke="#000" stroke-width="10"/>
<path d="M1509,928H1546M1593,928H1631" stroke="#f00" stroke-width="10"/>
<path d="M1509,1011H1515.5M1560,1011H1566M1611,1011H1616.5M1661,1011H1667" stroke="#00f" stroke-width="10"/>
</g>
<g fill="#f0f" shape-rendering="crispEdges"><circle cx="1509.8" cy="1094" r="5.2"/><circle cx="1526.6" cy="1094" r="5.2"/><circle cx="1543.4" cy="1094" r="5.2"/><circle cx="1560.2" cy="1094" r="5.2"/><circle cx="1577.0" cy="1094" r="5.2"/><circle cx="1593.8" cy="1094" r="5.2"/><circle cx="1610.5" cy="1094" r="5.2"/><circle cx="1627.3" cy="1094" r="5.2"/><circle cx="1644.1" cy="1094" r="5.2"/><circle cx="1660.9" cy="1094" r="5.2"/></g>
<rect x="1587.5" y="1010" width="1.5" height="2" fill="#00f"/>
<text x="1683" y="868" dx="0 2.4 0 0 0 0 -2.4" font-size="69.4">Point 1</text>
<text x="1683" y="951" dx="0 2.4 0 0 0 0 -2.4" font-size="69.4">Point 2</text>
<text x="1683" y="1034" dx="0 2.4 0 0 0 0 -2.4" font-size="69.4">Point 3</text>
<text x="1683" y="1117" dx="0 2.4 0 0 0 0 -2.4" font-size="69.4">Point 4</text>
</svg></body></html>
